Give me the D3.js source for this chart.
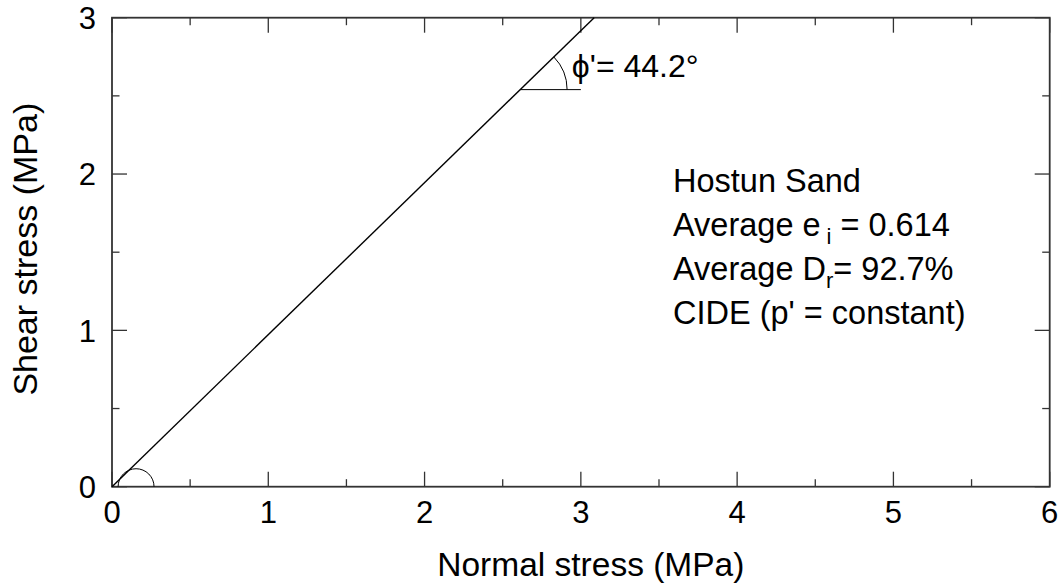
<!DOCTYPE html>
<html lang="en">
<head>
    <meta charset="UTF-8">
    <title>Failure envelope - Hostun Sand</title>
    <script src="https://d3js.org/d3.v7.min.js"></script>
    <style>
        body {
            margin: 0;
            background: #fff;
            font-family: "Liberation Sans", Arial, sans-serif;
        }
        svg text {
            fill: #000;
        }
    </style>
</head>
<body>
    <div id="chart"></div>
    <script>
        // Axis ticks
        const xTicks = [0, 1, 2, 3, 4, 5, 6];
        const yTicks = [0, 1, 2, 3];
        const xMinor = [0.5, 1.5, 2.5, 3.5, 4.5, 5.5];
        const yMinor = [0.5, 1.5, 2.5];

        // Failure envelope through the origin (normal stress, shear stress in MPa)
        const frictionAngle = 44.2;
        const envelope = [
            { sigma: 0, tau: 0 },
            { sigma: 3.085, tau: 3.0 }
        ];

        // Angle marker on the envelope and the small arc at the origin
        const angleVertex = { sigma: 2.612, tau: 2.54 };
        const angleLegEnd = 3.0;
        const angleRadius = 0.3;
        const originArc = { sigma: 0.154, radius: 0.115 };

        const infoLines = ["Hostun Sand", "Average e", "Average D", "CIDE (p' = constant)"];

        const W = 1064, H = 587;
        const margin = { top: 17.7, right: 14.3, bottom: 100.3, left: 112 };
        const width = W - margin.left - margin.right;
        const height = H - margin.top - margin.bottom;

        const svg = d3.select("#chart").append("svg")
            .attr("width", W)
            .attr("height", H);

        const g = svg.append("g")
            .attr("transform", `translate(${margin.left},${margin.top})`);

        const x = d3.scaleLinear().domain([0, 6]).range([0, width]);
        const y = d3.scaleLinear().domain([0, 3]).range([height, 0]);

        // inward ticks on all four sides
        const majorLen = 15, minorLen = 7.5;
        const tickStyle = sel => sel.attr("stroke", "#333").attr("stroke-width", 1.3);

        [[xTicks, majorLen], [xMinor, minorLen]].forEach(([vals, len]) => {
            vals.forEach(v => {
                g.append("line").attr("x1", x(v)).attr("x2", x(v))
                    .attr("y1", height).attr("y2", height - len).call(tickStyle);
                g.append("line").attr("x1", x(v)).attr("x2", x(v))
                    .attr("y1", 0).attr("y2", len).call(tickStyle);
            });
        });
        [[yTicks, majorLen], [yMinor, minorLen]].forEach(([vals, len]) => {
            vals.forEach(v => {
                g.append("line").attr("x1", 0).attr("x2", len)
                    .attr("y1", y(v)).attr("y2", y(v)).call(tickStyle);
                g.append("line").attr("x1", width).attr("x2", width - len)
                    .attr("y1", y(v)).attr("y2", y(v)).call(tickStyle);
            });
        });

        // frame
        g.append("rect")
            .attr("width", width).attr("height", height)
            .attr("fill", "none").attr("stroke", "#333").attr("stroke-width", 1.8);

        // tick labels
        g.selectAll("text.xtick").data(xTicks).enter().append("text")
            .attr("class", "xtick")
            .attr("x", d => x(d)).attr("y", height + 36.6)
            .attr("text-anchor", "middle")
            .style("font-size", "31px")
            .text(d => d);

        g.selectAll("text.ytick").data(yTicks).enter().append("text")
            .attr("class", "ytick")
            .attr("x", -16).attr("y", d => y(d))
            .attr("dy", "0.36em")
            .attr("text-anchor", "end")
            .style("font-size", "31px")
            .text(d => d);

        // axis titles
        g.append("text")
            .attr("x", width / 2 + 10).attr("y", height + 89.5)
            .attr("text-anchor", "middle")
            .style("font-size", "33.5px")
            .text("Normal stress (MPa)");

        g.append("text")
            .attr("transform", `translate(${37 - margin.left},${height / 2 - 3}) rotate(-90)`)
            .attr("text-anchor", "middle")
            .style("font-size", "34px")
            .text("Shear stress (MPa)");

        // envelope line
        const line = d3.line().x(d => x(d.sigma)).y(d => y(d.tau));
        g.append("path")
            .datum(envelope)
            .attr("d", line)
            .attr("fill", "none")
            .attr("stroke", "#000")
            .attr("stroke-width", 1.4);

        // friction angle marker
        const vx = x(angleVertex.sigma), vy = y(angleVertex.tau);
        g.append("line")
            .attr("x1", vx).attr("x2", x(angleLegEnd))
            .attr("y1", vy).attr("y2", vy)
            .attr("stroke", "#000").attr("stroke-width", 1);

        const r = x(angleRadius) - x(0);
        const rad = frictionAngle * Math.PI / 180;
        g.append("path")
            .attr("d", `M${vx + r},${vy} A${r},${r} 0 0 0 ${vx + r * Math.cos(rad)},${vy - r * Math.sin(rad)}`)
            .attr("fill", "none").attr("stroke", "#000").attr("stroke-width", 1);

        g.append("text")
            .attr("x", x(angleLegEnd) - 9).attr("y", vy - 13)
            .style("font-size", "32px")
            .text(`\u03D5'= ${frictionAngle}\u00B0`);

        // small arc at the origin
        const ox = x(originArc.sigma), or = x(originArc.radius) - x(0);
        g.append("path")
            .attr("d", `M${ox - or},${height} A${or},${or} 0 0 1 ${ox + or},${height}`)
            .attr("fill", "none").attr("stroke", "#000").attr("stroke-width", 1);

        // test information
        const info = g.append("g").attr("transform", `translate(${673 - margin.left},0)`)
            .style("font-size", "32.5px");
        const lineY = i => 192 - margin.top + i * 44;

        info.append("text").attr("y", lineY(0)).text(infoLines[0]);

        const t1 = info.append("text").attr("y", lineY(1));
        t1.append("tspan").text(infoLines[1]);
        t1.append("tspan").attr("dx", 6).attr("dy", 8).style("font-size", "22px").text("i");
        t1.append("tspan").attr("dy", -8).text(" = 0.614");

        const t2 = info.append("text").attr("y", lineY(2));
        t2.append("tspan").text(infoLines[2]);
        t2.append("tspan").attr("dy", 8).style("font-size", "22px").text("r");
        t2.append("tspan").attr("dy", -8).text("= 92.7%");

        info.append("text").attr("y", lineY(3)).text(infoLines[3]);
    </script>
</body>
</html>
